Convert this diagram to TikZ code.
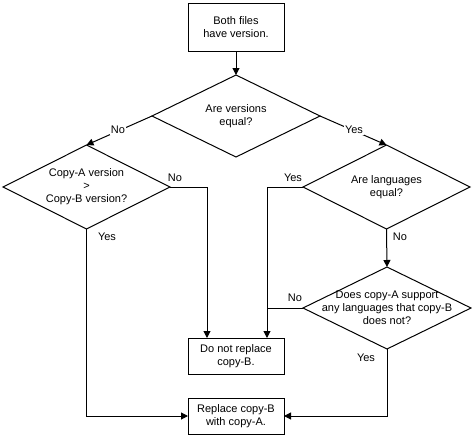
\documentclass[tikz,border=0pt]{standalone}
\usepackage{fontspec}
\setmainfont{Liberation Sans}
\usetikzlibrary{shapes.geometric,arrows.meta}
\begin{document}
\begin{tikzpicture}[x=0.75pt,y=-0.75pt,
  every node/.style={font=\fontsize{8.25pt}{9.75pt}\selectfont, text=black},
  line/.style={draw=black, line width=0.75pt},
  arr/.style={line, -{Triangle[length=5.25pt,width=5.25pt]}},
  boxnode/.style={draw=black, line width=0.75pt, rectangle, inner sep=0pt, outer sep=0pt, minimum width=72pt, align=center},
  dia/.style={draw=black, line width=0.75pt, diamond, inner sep=0pt, outer sep=0pt, aspect=2},
  dtxt/.style={align=center, inner sep=0pt},
  lab/.style={inner sep=1pt, fill=white}
]
\useasboundingbox[fill=white] (0,0) rectangle (472,436);

\node[boxnode, minimum height=36pt] (top) at (236,27) {Both files\\have version.};
\node[dia, minimum width=126pt, minimum height=61.5pt,
  label={[dtxt]center:{Are versions\\equal?}}] (d1) at (236,116) {};
\node[dia, minimum width=125.25pt, minimum height=63pt,
  label={[dtxt]center:{Copy-A version\\>\\Copy-B version?}}] (d2) at (86.5,187) {};
\node[dia, minimum width=125.25pt, minimum height=63pt,
  label={[dtxt]center:{Are languages\\equal?}}] (d3) at (386.5,187) {};
\node[dia, minimum width=126pt, minimum height=61.5pt,
  label={[dtxt]center:{Does copy-A support\\any languages that copy-B\\does not?}}] (d4) at (387,308) {};
\node[boxnode, minimum height=27pt] (dn) at (236,356) {Do not replace\\copy-B.};
\node[boxnode, minimum height=27pt] (rep) at (236,416) {Replace copy-B\\with copy-A.};

\coordinate (dnL) at (207,338);
\coordinate (dnR) at (267,338);

\draw[arr] (top.south) -- (d1.north);
\draw[arr] (d1.west) -- (d2.north);
\draw[arr] (d1.east) -- (d3.north);
\draw[arr] (d2.east) -| (dnL);
\draw[arr] (d3.west) -| (dnR);
\draw[line] (d4.west) -- (d4.west -| dnR);
\draw[arr] (d3.south) -- (d4.north);
\draw[arr] (d2.south) |- (rep.west);
\draw[arr] (d4.south) |- (rep.east);

\node[lab] (l1) at (118,130) {No};
\node[lab] (l2) at (354,130) {Yes};
\node[lab, fill=none] (l3) at (175,178) {No};
\node[lab, fill=none] (l4) at (293,178) {Yes};
\node[lab, fill=none] (l5) at (107,237) {Yes};
\node[lab, fill=none] (l6) at (400,237) {No};
\node[lab, fill=none] (l7) at (295,298) {No};
\node[lab, fill=none] (l8) at (366,358) {Yes};
\end{tikzpicture}
\end{document}
